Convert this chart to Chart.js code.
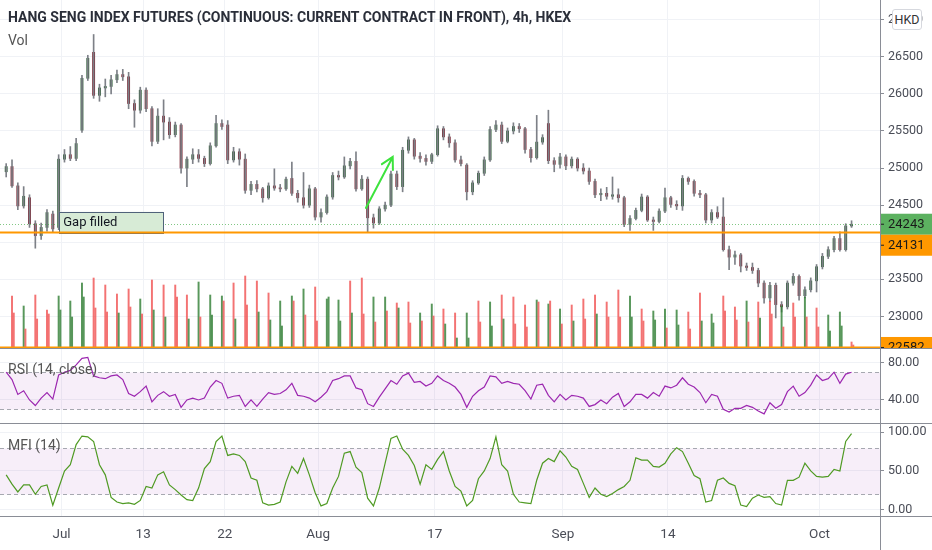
<!DOCTYPE html>
<html>
<head>
<meta charset="utf-8">
<script src="https://cdn.jsdelivr.net/npm/chart.js@4.4.1/dist/chart.umd.min.js"></script>
<style>
  html, body { margin: 0; padding: 0; background: #fff; }
  #wrap { position: relative; width: 932px; height: 550px; overflow: hidden;
          font-family: 'Liberation Sans Narrow', 'Roboto', sans-serif; }
  .pane { position: absolute; left: 0; width: 932px; }
  .txt { position: absolute; left: 8px; white-space: nowrap; color: #555; font-size: 14px; line-height: 16px; }
  .line { position: absolute; background: #8a8d96; }
  #hkd { position: absolute; left: 892px; top: 9px; width: 28px; height: 19px; border: 1px solid #d6d8de;
         border-radius: 3px; background: #fff; font-size: 12.5px; line-height: 19px; text-align: center; color: #333; }
</style>
</head>
<body>
<div id="wrap">
  <div class="pane" style="top:0;height:348px"><canvas id="main"></canvas></div>
  <div class="pane" style="top:349px;height:74px"><canvas id="rsi"></canvas></div>
  <div class="pane" style="top:424px;height:126px"><canvas id="mfi"></canvas></div>

  <div class="line" style="left:0;top:348px;width:932px;height:1px"></div>
  <div class="line" style="left:0;top:423px;width:932px;height:1px"></div>
  <div class="line" style="left:0;top:516px;width:932px;height:1px"></div>
  <div class="line" style="left:880px;top:0;width:1px;height:550px"></div>

  <div class="txt" style="top:9px;color:#2a2e39;font-weight:bold">HANG SENG INDEX FUTURES (CONTINUOUS: CURRENT CONTRACT IN FRONT), 4h, HKEX</div>
  <div class="txt" style="top:32px">Vol</div>
  <div class="txt" style="top:361px">RSI (14, close)</div>
  <div class="txt" style="top:437px">MFI (14)</div>
  <div id="hkd">HKD</div>
</div>

<script>
// 4h bars, two per trading day, first day is 5 sessions before 2 Jul 2020
const FIRST_DAY = -5
const X_MIN = -5.28
const X_MAX = 70.19

const tickDays = [0, 7, 14, 22, 32, 43, 52, 65]
const tickLabels = ["Jul", "13", "22", "Aug", "17", "Sep", "14", "Oct"]
const priceTicks = [23000, 23500, 24000, 24500, 25000, 25500, 26000, 26500, 27000]
const rsiTicks = [40, 80]
const mfiTicks = [0, 50, 100]

const opens = [
  24950, 25020, 24760, 24490, 24600, 24250, 24090, 24200, 24380, 24200,
  25120, 25180, 25130, 25510, 26210, 26560, 25980, 26080, 26100, 26190,
  26260, 26230, 25870, 25780, 26050, 25800, 25360, 25700, 25620, 25450,
  25580, 25000, 25120, 25180, 25130, 25060, 25300, 25600, 25580, 25110,
  25220, 25120, 24700, 24780, 24720, 24600, 24760, 24730, 24720, 24860,
  24660, 24600, 24500, 24720, 24340, 24400, 24610, 24900, 24880, 25030,
  25090, 24720, 24850, 24330, 24260, 24450, 24500, 24920, 24750, 25240,
  25380, 25160, 25130, 25090, 25180, 25530, 25420, 25340, 25110, 25040,
  24680, 24800, 24930, 25110, 25520, 25580, 25360, 25500, 25560, 25530,
  25250, 25140, 25350, 25600, 25100, 25050, 25150, 25030, 25120, 25000,
  24960, 24820, 24640, 24660, 24620, 24640, 24600, 24240, 24320, 24430,
  24610, 24300, 24280, 24420, 24600, 24510, 24490, 24860, 24820, 24660,
  24640, 24300, 24400, 24340, 23900, 23800, 23830, 23680, 23660, 23620,
  23450, 23250, 23420, 23160, 23130, 23450, 23540, 23280, 23360, 23480,
  23670, 23810, 23900, 24050, 23900, 24220
]
const highs = [
  25060, 25110, 24800, 24750, 24640, 24290, 24260, 24440, 24420, 25180,
  25250, 25290, 25400, 26250, 26520, 26800, 26130, 26200, 26250, 26320,
  26330, 26290, 25920, 26090, 26080, 25830, 25800, 25920, 25680, 25620,
  25600, 25150, 25260, 25250, 25160, 25340, 25710, 25650, 25640, 25280,
  25260, 25190, 24820, 24830, 24740, 24800, 24990, 24780, 24880, 25080,
  24700, 24940, 24770, 24740, 24450, 24640, 24940, 24960, 25150, 25130,
  25220, 24900, 24880, 24380, 24480, 24540, 24960, 24960, 25280, 25420,
  25400, 25210, 25180, 25200, 25570, 25560, 25460, 25380, 25160, 25060,
  24830, 24960, 25150, 25560, 25640, 25620, 25540, 25610, 25600, 25550,
  25280, 25710, 25450, 25780, 25140, 25200, 25180, 25150, 25140, 25060,
  25000, 24850, 24720, 24740, 24880, 24720, 24620, 24360, 24460, 24650,
  24630, 24340, 24450, 24730, 24620, 24560, 24900, 24880, 24840, 24700,
  24660, 24440, 24480, 24600, 23950, 23880, 23850, 23720, 23720, 23650,
  23480, 23460, 23450, 23200, 23480, 23580, 23560, 23400, 23520, 23700,
  23850, 23940, 24080, 24140, 24250, 24290
]
const lows = [
  24880, 24740, 24440, 24460, 24200, 23920, 24040, 24150, 24140, 24170,
  25080, 25100, 25100, 25480, 26180, 25940, 25900, 25960, 26000, 26150,
  26180, 25800, 25550, 25740, 25760, 25300, 25330, 25380, 25400, 25420,
  24930, 24750, 25060, 25080, 25020, 25040, 25280, 25520, 25060, 25080,
  25040, 24660, 24640, 24680, 24540, 24580, 24700, 24680, 24700, 24630,
  24540, 24460, 24470, 24300, 24270, 24380, 24580, 24840, 24860, 24990,
  24690, 24700, 24140, 24190, 24240, 24420, 24480, 24710, 24680, 25200,
  25120, 25080, 25040, 25060, 25160, 25380, 25280, 25080, 25030, 24570,
  24640, 24780, 24900, 25090, 25490, 25330, 25340, 25460, 25480, 25200,
  25080, 25120, 25320, 25060, 24950, 25000, 24980, 25000, 24960, 24920,
  24780, 24600, 24560, 24580, 24580, 24540, 24210, 24160, 24300, 24410,
  24280, 24160, 24260, 24400, 24470, 24440, 24430, 24780, 24620, 24600,
  24260, 24260, 24320, 23880, 23630, 23700, 23600, 23620, 23580, 23400,
  23180, 23200, 22980, 23060, 23100, 23420, 23220, 23250, 23330, 23330,
  23640, 23780, 23870, 23880, 23880, 24200
]
const closes = [
  25020, 24760, 24490, 24620, 24250, 24090, 24200, 24400, 24180, 25120,
  25180, 25130, 25330, 26210, 26480, 25980, 26080, 26100, 26190, 26260,
  26230, 25870, 25780, 26050, 25800, 25360, 25700, 25620, 25450, 25580,
  25000, 25120, 25180, 25130, 25060, 25300, 25600, 25560, 25110, 25220,
  25120, 24700, 24780, 24720, 24600, 24760, 24730, 24720, 24850, 24660,
  24600, 24500, 24720, 24340, 24400, 24610, 24900, 24880, 25030, 25090,
  24720, 24850, 24330, 24260, 24450, 24500, 24920, 24750, 25240, 25380,
  25160, 25130, 25090, 25180, 25530, 25420, 25340, 25110, 25060, 24680,
  24800, 24930, 25110, 25520, 25580, 25360, 25500, 25560, 25530, 25250,
  25140, 25350, 25410, 25100, 25050, 25150, 25030, 25120, 25000, 24960,
  24820, 24640, 24660, 24620, 24640, 24600, 24240, 24320, 24430, 24610,
  24300, 24280, 24420, 24600, 24510, 24490, 24860, 24820, 24660, 24640,
  24300, 24400, 24340, 23900, 23800, 23830, 23680, 23660, 23620, 23450,
  23250, 23420, 23160, 23130, 23450, 23540, 23280, 23360, 23480, 23670,
  23810, 23900, 24050, 23900, 24220, 24243
]

// volume per trading day (thousand contracts): opening bar and the bar after it; 1 = up, -1 = down
const volBig = [
  104, 84, 106, 76, 104, 94, 130, 140, 126, 108,
  118, 98, 136, 126, 126, 106, 132, 106, 104, 130,
  144, 134, 110, 94, 104, 118, 122, 98, 96, 134,
  140, 102, 102, 90, 92, 70, 88, 78, 70, 70,
  94, 92, 106, 102, 86, 96, 88, 78, 86, 98,
  106, 92, 116, 104, 78, 74, 78, 76, 72, 110,
  68, 104, 82, 94, 92, 94, 84, 90, 102, 80,
  66, 72, 12
]
const volBigDir = [
  -1, 1, -1, -1, 1, 1, 1, -1, -1, -1,
  -1, 1, -1, -1, -1, -1, 1, 1, 1, -1,
  -1, -1, -1, 1, 1, 1, -1, 1, 1, -1,
  -1, 1, 1, -1, -1, 1, 1, -1, -1, 1,
  -1, 1, -1, -1, -1, 1, 1, 1, -1, -1,
  -1, -1, -1, 1, -1, 1, 1, 1, -1, -1,
  1, -1, -1, 1, -1, -1, 1, -1, 1, -1,
  1, 1, -1
]
const volMed = [
  70, 38, 58, 68, 76, 62, 102, 80, 72, 70,
  82, 68, 76, 62, 102, 58, 62, 66, 94, 58,
  86, 72, 56, 44, 94, 66, 54, 102, 54, 70,
  68, 52, 74, 80, 50, 54, 64, 48, 20, 20,
  52, 44, 58, 48, 42, 92, 94, 48, 54, 58,
  68, 62, 62, 62, 54, 56, 40, 46, 38, 54,
  50, 74, 56, 52, 60, 68, 42, 62, 62, 42,
  34, 44, 6
]
const volMedDir = [
  -1, -1, -1, -1, 1, 1, 1, -1, -1, 1,
  -1, -1, 1, 1, -1, 1, -1, 1, -1, 1,
  -1, 1, 1, 1, -1, -1, -1, 1, 1, 1,
  -1, -1, -1, 1, -1, -1, -1, 1, 1, 1,
  -1, 1, 1, -1, -1, -1, -1, -1, 1, -1,
  1, -1, -1, 1, -1, 1, -1, 1, -1, 1,
  1, -1, -1, -1, 1, -1, -1, -1, -1, -1,
  1, 1, -1
]

const rsi = [
  70, 62, 46, 50, 40, 34, 42, 48, 41, 67,
  70, 72, 78, 85, 86, 66, 64, 63, 66, 67,
  62, 47, 44, 49, 55, 38, 45, 49, 44, 46,
  32, 40, 42, 40, 42, 54, 61, 58, 42, 44,
  45, 33, 40, 33, 41, 48, 46, 47, 51, 58,
  45, 44, 42, 38, 43, 49, 61, 63, 66, 66,
  53, 51, 36, 33, 43, 52, 61, 57, 66, 69,
  59, 60, 55, 58, 66, 61, 58, 54, 46, 32,
  44, 50, 54, 66, 65, 58, 60, 58, 57, 50,
  41, 56, 57, 45, 38, 46, 40, 45, 44, 42,
  33, 35, 40, 36, 43, 47, 33, 38, 46, 46,
  42, 48, 44, 55, 53, 56, 64, 57, 54, 48,
  37, 46, 44, 30, 27, 31, 31, 34, 32, 28,
  25, 37, 31, 35, 49, 55, 44, 48, 56, 67,
  61, 63, 70, 58, 68, 70
]
const mfi = [
  45, 33, 23, 32, 32, 20, 30, 32, 6, 28,
  50, 58, 84, 95, 94, 88, 58, 45, 16, 10,
  8, 9, 7, 12, 30, 28, 45, 49, 32, 26,
  19, 13, 12, 28, 53, 62, 88, 95, 70, 72,
  70, 62, 41, 38, 9, 6, 7, 10, 36, 56,
  47, 66, 45, 22, 5, 8, 28, 43, 73, 75,
  55, 48, 15, 5, 28, 60, 92, 95, 78, 70,
  57, 33, 58, 52, 65, 75, 50, 30, 24, 5,
  12, 40, 50, 66, 94, 58, 50, 20, 10, 9,
  8, 38, 60, 66, 62, 76, 68, 56, 52, 34,
  16, 28, 20, 17, 21, 26, 30, 38, 67, 64,
  64, 56, 55, 60, 72, 80, 75, 60, 44, 40,
  10, 12, 38, 41, 34, 31, 6, 4, 15, 19,
  16, 17, 8, 6, 38, 38, 42, 60, 50, 43,
  42, 43, 52, 50, 88, 98
]

const levels = [24131, 22582]
const gapBox = { from: -0.2, to: 8.7, low: 24131, high: 24410, text: "Gap filled" }
const arrow = { x0: 26.1, y0: 24463, x1: 28.4, y1: 25150 }

const FONT = "'Liberation Sans Narrow', 'Roboto', sans-serif"
const GRID = "#f0f2f6"
const AXIS = "#8a8d96"
const TEXT = "#4a4d57"
const UP = "#2f5d38"
const DOWN = "#7a2230"
const VOL_UP = "rgba(46,125,50,0.8)"
const VOL_DOWN = "rgba(240,80,80,0.8)"
const ORANGE = "#ff9800"

Chart.defaults.font.family = FONT
Chart.defaults.font.size = 12.5
Chart.defaults.color = TEXT

const barX = (i) => FIRST_DAY + Math.floor(i / 2) + (i % 2 ? 0.75 : 0.25)
const isUp = (i) => closes[i] >= opens[i]

const xScale = (labels) => ({
  type: "linear",
  min: X_MIN,
  max: X_MAX,
  offset: false,
  grid: { color: GRID, drawTicks: false, offset: false },
  border: { display: false },
  afterBuildTicks: (s) => { s.ticks = tickDays.map((v) => ({ value: v })) },
  afterFit: (s) => { s.height = labels ? 34 : 0; s.paddingLeft = 0; s.paddingRight = 0 },
  ticks: {
    display: labels, autoSkip: false, maxRotation: 0, padding: 11, color: TEXT,
    font: { size: 13.5 },
    callback: (v, i) => tickLabels[i],
  },
})

const yScale = (min, max, ticks, fmt) => ({
  position: "right",
  min, max,
  afterBuildTicks: (s) => { s.ticks = ticks.map((v) => ({ value: v })) },
  afterFit: (s) => { s.width = 52; s.paddingTop = 0; s.paddingBottom = 0 },
  grid: { color: GRID, tickColor: AXIS, tickLength: 4 },
  border: { display: false },
  ticks: { padding: 4, color: TEXT, callback: fmt },
})

const baseOptions = {
  responsive: true,
  maintainAspectRatio: false,
  animation: false,
  events: [],
  layout: { padding: 0 },
  plugins: { legend: { display: false }, tooltip: { enabled: false } },
}

// price chart extras: level lines, gap note, arrow, axis tags
const overlayPlugin = {
  id: "overlay",
  afterDatasetsDraw(chart) {
    const { ctx, chartArea: a, scales: { x, y } } = chart
    ctx.save()
    ctx.beginPath()
    ctx.rect(a.left, a.top, a.right - a.left, a.bottom - a.top)
    ctx.clip()

    const last = closes[closes.length - 1]
    ctx.strokeStyle = "rgba(76,175,80,0.7)"
    ctx.lineWidth = 1
    ctx.setLineDash([1, 2])
    ctx.beginPath()
    ctx.moveTo(a.left, Math.round(y.getPixelForValue(last)) + 0.5)
    ctx.lineTo(a.right, Math.round(y.getPixelForValue(last)) + 0.5)
    ctx.stroke()
    ctx.setLineDash([])

    const bx0 = x.getPixelForValue(gapBox.from)
    const bx1 = x.getPixelForValue(gapBox.to)
    const by0 = y.getPixelForValue(gapBox.high)
    const by1 = y.getPixelForValue(gapBox.low)
    ctx.fillStyle = "#d7ebd6"
    ctx.fillRect(bx0, by0, bx1 - bx0, by1 - by0)
    ctx.strokeStyle = "#50627a"
    ctx.strokeRect(Math.round(bx0) + 0.5, Math.round(by0) + 0.5, Math.round(bx1 - bx0), Math.round(by1 - by0))
    ctx.fillStyle = "#131722"
    ctx.font = "13px " + FONT
    ctx.textBaseline = "middle"
    ctx.fillText(gapBox.text, bx0 + 4, (by0 + by1) / 2 + 1)

    ctx.strokeStyle = ORANGE
    ctx.lineWidth = 2
    levels.forEach((v) => {
      const py = y.getPixelForValue(v)
      ctx.beginPath()
      ctx.moveTo(a.left, py)
      ctx.lineTo(a.right, py)
      ctx.stroke()
    })

    const ax0 = x.getPixelForValue(arrow.x0), ay0 = y.getPixelForValue(arrow.y0)
    const ax1 = x.getPixelForValue(arrow.x1), ay1 = y.getPixelForValue(arrow.y1)
    const ang = Math.atan2(ay1 - ay0, ax1 - ax0)
    ctx.strokeStyle = "#3de33d"
    ctx.lineWidth = 2
    ctx.lineCap = "round"
    ctx.beginPath()
    ctx.moveTo(ax0, ay0)
    ctx.lineTo(ax1, ay1)
    ctx.moveTo(ax1 - 13 * Math.cos(ang - 0.5), ay1 - 13 * Math.sin(ang - 0.5))
    ctx.lineTo(ax1, ay1)
    ctx.lineTo(ax1 - 13 * Math.cos(ang + 0.5), ay1 - 13 * Math.sin(ang + 0.5))
    ctx.stroke()
    ctx.restore()
  },
  afterDraw(chart) {
    const { ctx, chartArea: a, scales: { y } } = chart
    const tags = [
      { v: closes[closes.length - 1], bg: "#5cb160" },
      { v: levels[0], bg: ORANGE },
      { v: levels[1], bg: ORANGE },
    ]
    let prevBottom = -Infinity
    ctx.save()
    ctx.font = "13px " + FONT
    ctx.textBaseline = "middle"
    tags.forEach((t) => {
      let top = y.getPixelForValue(t.v) - 10.5
      if (top < prevBottom) top = prevBottom
      ctx.fillStyle = t.bg
      ctx.fillRect(a.right + 1, top, 52, 21)
      ctx.strokeStyle = "#1e1e1e"
      ctx.lineWidth = 1
      ctx.beginPath()
      ctx.moveTo(a.right, top + 10.5)
      ctx.lineTo(a.right + 4, top + 10.5)
      ctx.stroke()
      ctx.fillStyle = "#1a1a1a"
      ctx.fillText(String(t.v), a.right + 8, top + 11)
      prevBottom = top + 21
    })
    ctx.restore()
  },
}

// overbought / oversold band for the oscillators
const bandPlugin = {
  id: "band",
  beforeDatasetsDraw(chart, args, opts) {
    const { ctx, chartArea: a, scales: { y } } = chart
    const top = Math.round(y.getPixelForValue(opts.hi)) + 0.5
    const bot = Math.round(y.getPixelForValue(opts.lo)) + 0.5
    ctx.save()
    ctx.fillStyle = "rgba(156,39,176,0.08)"
    ctx.fillRect(a.left, top, a.right - a.left, bot - top)
    ctx.strokeStyle = "#a6a8b0"
    ctx.lineWidth = 1
    ctx.setLineDash([4, 3])
    ;[top, bot].forEach((py) => {
      ctx.beginPath()
      ctx.moveTo(a.left, py)
      ctx.lineTo(a.right, py)
      ctx.stroke()
    })
    ctx.restore()
  },
}

const volData = []
const volColors = []
volBig.forEach((v, j) => {
  volData.push({ x: FIRST_DAY + j + 0.75, y: v })
  volColors.push(volBigDir[j] > 0 ? VOL_UP : VOL_DOWN)
  volData.push({ x: FIRST_DAY + j + 0.9, y: volMed[j] })
  volColors.push(volMedDir[j] > 0 ? VOL_UP : VOL_DOWN)
})

new Chart(document.getElementById("main"), {
  type: "bar",
  data: {
    datasets: [
      {
        data: volData,
        yAxisID: "yVol",
        backgroundColor: volColors,
        barThickness: 1.3,
        grouped: false,
      },
      {
        data: closes.map((c, i) => ({ x: barX(i), y: [lows[i], highs[i]] })),
        yAxisID: "y",
        backgroundColor: "#7d8087",
        barThickness: 1,
        grouped: false,
      },
      {
        data: closes.map((c, i) => ({ x: barX(i), y: [opens[i], c] })),
        yAxisID: "y",
        backgroundColor: closes.map((c, i) => (isUp(i) ? UP : DOWN)),
        barThickness: 2.2,
        minBarLength: 1,
        grouped: false,
      },
    ],
  },
  options: {
    ...baseOptions,
    scales: {
      x: xScale(false),
      y: yScale(22575, 27265, priceTicks, (v) => String(v)),
      yVol: { display: false, min: 0, max: 696 },
    },
  },
  plugins: [overlayPlugin],
})

new Chart(document.getElementById("rsi"), {
  type: "line",
  data: {
    datasets: [{
      data: rsi.map((v, i) => ({ x: barX(i), y: v })),
      borderColor: "#9c27b0",
      borderWidth: 1.2,
      pointRadius: 0,
      tension: 0,
    }],
  },
  options: {
    ...baseOptions,
    plugins: { ...baseOptions.plugins, band: { lo: 30, hi: 70 } },
    scales: {
      x: xScale(false),
      y: yScale(15.1, 95.1, rsiTicks, (v) => v.toFixed(2)),
    },
  },
  plugins: [bandPlugin],
})

new Chart(document.getElementById("mfi"), {
  type: "line",
  data: {
    datasets: [{
      data: mfi.map((v, i) => ({ x: barX(i), y: v })),
      borderColor: "#4f9a23",
      borderWidth: 1.2,
      pointRadius: 0,
      tension: 0,
    }],
  },
  options: {
    ...baseOptions,
    plugins: { ...baseOptions.plugins, band: { lo: 20, hi: 80 } },
    scales: {
      x: xScale(true),
      y: yScale(-8, 110.5, mfiTicks, (v) => v.toFixed(2)),
    },
  },
  plugins: [bandPlugin],
})
</script>
</body>
</html>
